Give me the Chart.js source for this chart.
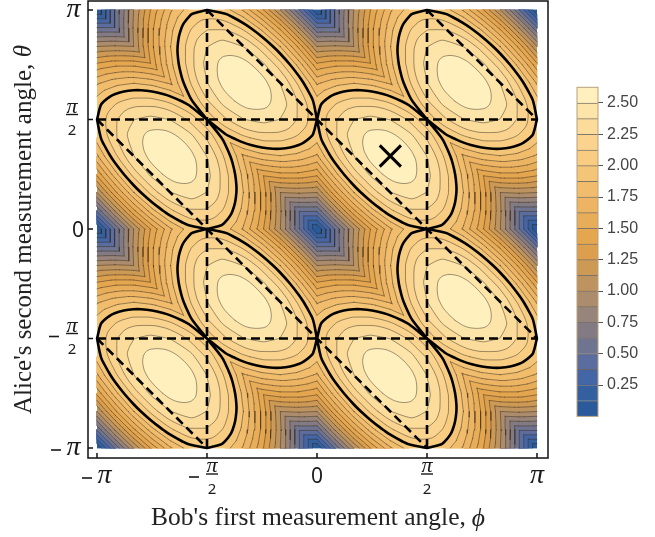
<!DOCTYPE html>
<html>
<head>
<meta charset="utf-8">
<script src="https://cdn.jsdelivr.net/npm/chart.js@4"></script>
<style>
html, body { margin: 0; padding: 0; background: #fff; }
#wrap { position: relative; width: 655px; height: 537px; overflow: hidden; }
#plot { position: absolute; left: 0; top: 0; }
#bar { position: absolute; left: 540px; top: 70px; }
</style>
</head>
<body>
<div id="wrap">
<canvas id="plot" width="655" height="537"></canvas>
<canvas id="bar" width="115" height="360"></canvas>
</div>
<script>
// grid angles, 15 degree steps, same for both axes
var gridAngles = [-3.1416,-2.8798,-2.618,-2.3562,-2.0944,-1.8326,-1.5708,-1.309,-1.0472,-0.7854,-0.5236,-0.2618,0,0.2618,0.5236,0.7854,1.0472,1.309,1.5708,1.8326,2.0944,2.3562,2.618,2.8798,3.1416];

// surface heights, bottom row is theta = -pi
var zValues = [
[0,0.52,1,1.41,1.73,1.93,2,1.93,1.73,1.41,1,0.52,0,0.52,1,1.41,1.73,1.93,2,1.93,1.73,1.41,1,0.52,0],
[0.52,1.02,1.47,1.83,2.09,2.23,2.23,2.09,1.83,1.47,1.02,0.52,0.52,1.02,1.47,1.83,2.09,2.23,2.23,2.09,1.83,1.47,1.02,0.52,0.52],
[1,1.47,1.87,2.17,2.37,2.43,2.37,2.17,1.87,1.47,1,1.02,1,1.47,1.87,2.17,2.37,2.43,2.37,2.17,1.87,1.47,1,1.02,1],
[1.41,1.83,2.17,2.41,2.54,2.54,2.41,2.17,1.83,1.41,1.47,1.47,1.41,1.83,2.17,2.41,2.54,2.54,2.41,2.17,1.83,1.41,1.47,1.47,1.41],
[1.73,2.09,2.37,2.54,2.6,2.54,2.37,2.09,1.73,1.83,1.87,1.83,1.73,2.09,2.37,2.54,2.6,2.54,2.37,2.09,1.73,1.83,1.87,1.83,1.73],
[1.93,2.23,2.43,2.54,2.54,2.43,2.23,1.93,2.09,2.17,2.17,2.09,1.93,2.23,2.43,2.54,2.54,2.43,2.23,1.93,2.09,2.17,2.17,2.09,1.93],
[2,2.23,2.37,2.41,2.37,2.23,2,2.23,2.37,2.41,2.37,2.23,2,2.23,2.37,2.41,2.37,2.23,2,2.23,2.37,2.41,2.37,2.23,2],
[1.93,2.09,2.17,2.17,2.09,1.93,2.23,2.43,2.54,2.54,2.43,2.23,1.93,2.09,2.17,2.17,2.09,1.93,2.23,2.43,2.54,2.54,2.43,2.23,1.93],
[1.73,1.83,1.87,1.83,1.73,2.09,2.37,2.54,2.6,2.54,2.37,2.09,1.73,1.83,1.87,1.83,1.73,2.09,2.37,2.54,2.6,2.54,2.37,2.09,1.73],
[1.41,1.47,1.47,1.41,1.83,2.17,2.41,2.54,2.54,2.41,2.17,1.83,1.41,1.47,1.47,1.41,1.83,2.17,2.41,2.54,2.54,2.41,2.17,1.83,1.41],
[1,1.02,1,1.47,1.87,2.17,2.37,2.43,2.37,2.17,1.87,1.47,1,1.02,1,1.47,1.87,2.17,2.37,2.43,2.37,2.17,1.87,1.47,1],
[0.52,0.52,1.02,1.47,1.83,2.09,2.23,2.23,2.09,1.83,1.47,1.02,0.52,0.52,1.02,1.47,1.83,2.09,2.23,2.23,2.09,1.83,1.47,1.02,0.52],
[0,0.52,1,1.41,1.73,1.93,2,1.93,1.73,1.41,1,0.52,0,0.52,1,1.41,1.73,1.93,2,1.93,1.73,1.41,1,0.52,0],
[0.52,1.02,1.47,1.83,2.09,2.23,2.23,2.09,1.83,1.47,1.02,0.52,0.52,1.02,1.47,1.83,2.09,2.23,2.23,2.09,1.83,1.47,1.02,0.52,0.52],
[1,1.47,1.87,2.17,2.37,2.43,2.37,2.17,1.87,1.47,1,1.02,1,1.47,1.87,2.17,2.37,2.43,2.37,2.17,1.87,1.47,1,1.02,1],
[1.41,1.83,2.17,2.41,2.54,2.54,2.41,2.17,1.83,1.41,1.47,1.47,1.41,1.83,2.17,2.41,2.54,2.54,2.41,2.17,1.83,1.41,1.47,1.47,1.41],
[1.73,2.09,2.37,2.54,2.6,2.54,2.37,2.09,1.73,1.83,1.87,1.83,1.73,2.09,2.37,2.54,2.6,2.54,2.37,2.09,1.73,1.83,1.87,1.83,1.73],
[1.93,2.23,2.43,2.54,2.54,2.43,2.23,1.93,2.09,2.17,2.17,2.09,1.93,2.23,2.43,2.54,2.54,2.43,2.23,1.93,2.09,2.17,2.17,2.09,1.93],
[2,2.23,2.37,2.41,2.37,2.23,2,2.23,2.37,2.41,2.37,2.23,2,2.23,2.37,2.41,2.37,2.23,2,2.23,2.37,2.41,2.37,2.23,2],
[1.93,2.09,2.17,2.17,2.09,1.93,2.23,2.43,2.54,2.54,2.43,2.23,1.93,2.09,2.17,2.17,2.09,1.93,2.23,2.43,2.54,2.54,2.43,2.23,1.93],
[1.73,1.83,1.87,1.83,1.73,2.09,2.37,2.54,2.6,2.54,2.37,2.09,1.73,1.83,1.87,1.83,1.73,2.09,2.37,2.54,2.6,2.54,2.37,2.09,1.73],
[1.41,1.47,1.47,1.41,1.83,2.17,2.41,2.54,2.54,2.41,2.17,1.83,1.41,1.47,1.47,1.41,1.83,2.17,2.41,2.54,2.54,2.41,2.17,1.83,1.41],
[1,1.02,1,1.47,1.87,2.17,2.37,2.43,2.37,2.17,1.87,1.47,1,1.02,1,1.47,1.87,2.17,2.37,2.43,2.37,2.17,1.87,1.47,1],
[0.52,0.52,1.02,1.47,1.83,2.09,2.23,2.23,2.09,1.83,1.47,1.02,0.52,0.52,1.02,1.47,1.83,2.09,2.23,2.23,2.09,1.83,1.47,1.02,0.52],
[0,0.52,1,1.41,1.73,1.93,2,1.93,1.73,1.41,1,0.52,0,0.52,1,1.41,1.73,1.93,2,1.93,1.73,1.41,1,0.52,0]
];

var levels = [0,0.125,0.25,0.375,0.5,0.625,0.75,0.875,1,1.125,1.25,1.375,1.5,1.625,1.75,1.875,2,2.125,2.25,2.375,2.5,2.625];
var bandColors = ['#2a5a9b','#35609f','#4466a6','#5b6d9f','#6f7590','#837b84','#97847a','#ab8c6d','#bd9460','#cd9a56','#dc9f4e','#e4a64f','#e8ad58','#edb563','#f1bd6c','#f5c577','#f8cd82','#fad48e','#fcdc9a','#fde4a8','#fff0bd'];
var colorbarTicks = [0.25,0.5,0.75,1,1.25,1.5,1.75,2,2.25,2.5];

var tickValues = [-3.1416,-1.5708,0,1.5708,3.1416];
var tickLabels = ['−π','−π/2','0','π/2','π'];

var xTitle = "Bob's first measurement angle,   ";
var yTitle = "Alice's second measurement angle,   ";
var xSymbol = 'ϕ';
var ySymbol = 'θ';

var markerPhi = [1.0472];
var markerTheta = [1.0472];

// dashed guide lines, start and end of each
var dashPhi = [[-1.5708,-1.5708],[1.5708,1.5708],[-3.1416,3.1416],[-3.1416,3.1416],[-1.5708,3.1416],[1.5708,3.1416],[-3.1416,1.5708],[-3.1416,-1.5708]];
var dashTheta = [[-3.1416,3.1416],[-3.1416,3.1416],[-1.5708,-1.5708],[1.5708,1.5708],[3.1416,-1.5708],[3.1416,1.5708],[1.5708,-3.1416],[-1.5708,-3.1416]];

var gap = { x: NaN, y: NaN };

// the two triangles of every grid cell, split along the anti-diagonal
function eachTriangle(cb) {
    for (var j = 0; j < zValues.length - 1; j++) {
        for (var i = 0; i < gridAngles.length - 1; i++) {
            var a = [gridAngles[i], gridAngles[j], zValues[j][i], i, j];
            var b = [gridAngles[i + 1], gridAngles[j], zValues[j][i + 1], i + 1, j];
            var c = [gridAngles[i], gridAngles[j + 1], zValues[j + 1][i], i, j + 1];
            var d = [gridAngles[i + 1], gridAngles[j + 1], zValues[j + 1][i + 1], i + 1, j + 1];
            cb([a, b, c]);
            cb([d, c, b]);
        }
    }
}

function cross(p, q, lev) {
    var t = (lev - p[2]) / (q[2] - p[2]);
    return { x: p[0] + t * (q[0] - p[0]), y: p[1] + t * (q[1] - p[1]) };
}

// same crossing, but placed with the next grid node along the edge so the
// ellipses do not pick up the corners of the grid
function crossCurved(p, q, lev) {
    var lo = p[2] < q[2] ? p : q, hi = p[2] < q[2] ? q : p;
    var n = gridAngles.length - 1;
    var ri = ((2 * hi[3] - lo[3]) % n + n) % n;
    var rj = ((2 * hi[4] - lo[4]) % n + n) % n;
    var a = (zValues[rj][ri] - 2 * hi[2] + lo[2]) / 2;
    var b = hi[2] - lo[2] - a;
    var c = lo[2] - lev;
    var disc = b * b - 4 * a * c;
    if (Math.abs(a) < 1e-6 || disc < 0) return cross(p, q, lev);
    var s1 = (-b + Math.sqrt(disc)) / (2 * a), s2 = (-b - Math.sqrt(disc)) / (2 * a);
    var s = (s1 >= 0 && s1 <= 1) ? s1 : s2;
    if (s < 0 || s > 1) return cross(p, q, lev);
    return { x: lo[0] + s * (hi[0] - lo[0]), y: lo[1] + s * (hi[1] - lo[1]) };
}

// region of the surface at or above lev, as polygons split by gaps
function bandPoints(lev, nextLev) {
    var pts = [];
    eachTriangle(function(tri) {
        var zs = tri.map(function(p) { return p[2]; });
        if (Math.max.apply(null, zs) < lev || Math.min.apply(null, zs) >= nextLev + 0.05) return;
        for (var k = 0; k < 3; k++) {
            var p = tri[k], q = tri[(k + 1) % 3];
            if (p[2] >= lev) pts.push({ x: p[0], y: p[1] });
            if ((p[2] >= lev) !== (q[2] >= lev)) pts.push(cross(p, q, lev));
        }
        pts.push(gap);
    });
    return pts;
}

function contourSegments(lev, crossFn) {
    var segs = [];
    eachTriangle(function(tri) {
        var hits = [];
        for (var k = 0; k < 3; k++) {
            var p = tri[k], q = tri[(k + 1) % 3];
            if ((p[2] >= lev) !== (q[2] >= lev)) hits.push(crossFn(p, q, lev));
        }
        if (hits.length === 2) segs.push(hits);
    });
    return segs;
}

function contourPoints(lev) {
    var pts = [];
    contourSegments(lev, cross).forEach(function(s) { pts.push(s[0], s[1], gap); });
    return pts;
}

function ptKey(p) { return p.x.toFixed(4) + ',' + p.y.toFixed(4); }

// join segments into closed loops, used for the ellipses at 2 and above
function contourLoops(lev) {
    var segs = contourSegments(lev + 0.001, crossCurved);
    var byKey = {};
    segs.forEach(function(s, n) {
        s.forEach(function(p) {
            var k = ptKey(p);
            (byKey[k] = byKey[k] || []).push(n);
        });
    });
    var used = segs.map(function() { return false; });
    var pts = [];
    segs.forEach(function(s, n) {
        if (used[n]) return;
        used[n] = true;
        var loop = [s[0], s[1]];
        var cur = s[1];
        while (true) {
            var next = byKey[ptKey(cur)].filter(function(m) { return !used[m]; })[0];
            if (next === undefined) break;
            used[next] = true;
            var t = segs[next];
            cur = ptKey(t[0]) === ptKey(cur) ? t[1] : t[0];
            loop.push(cur);
        }
        pts = pts.concat(loop);
        pts.push(gap);
    });
    return pts;
}

var datasets = [];
bandColors.forEach(function(col, n) {
    var high = levels[n] >= 2;
    datasets.push({
        label: 'band ' + levels[n],
        data: high ? contourLoops(levels[n]) : bandPoints(levels[n], levels[n + 1]),
        showLine: true, spanGaps: false, fill: 'shape',
        tension: high ? 0.4 : 0,
        backgroundColor: col, borderColor: col, borderWidth: 0.8,
        pointRadius: 0, order: 1000 - n
    });
});
levels.slice(1, 21).forEach(function(lev) {
    var high = lev >= 2;
    var thick = lev === 2;
    datasets.push({
        label: 'contour ' + lev,
        data: high ? contourLoops(lev) : contourPoints(lev),
        showLine: true, spanGaps: false, fill: false,
        tension: high ? 0.4 : 0,
        borderColor: thick ? '#000' : 'rgba(50,40,30,0.48)',
        borderWidth: thick ? 2.6 : 1,
        borderCapStyle: 'round',
        pointRadius: 0, order: thick ? 50 : 100
    });
});
dashPhi.forEach(function(xs, n) {
    datasets.push({
        label: 'dashed ' + n,
        data: [{ x: xs[0], y: dashTheta[n][0] }, { x: xs[1], y: dashTheta[n][1] }],
        showLine: true, fill: false,
        borderColor: '#000', borderWidth: 2.6, borderDash: [9, 5],
        pointRadius: 0, order: 10
    });
});
datasets.push({
    label: 'optimum',
    data: [{ x: markerPhi[0], y: markerTheta[0] }],
    pointStyle: 'crossRot', pointRadius: 15, pointBorderColor: '#000', pointBorderWidth: 3,
    order: 1
});

function drawTick(ctx, label, x, y, isX) {
    var neg = label[0] === '−';
    var body = neg ? label.slice(1) : label;
    var frac = body.indexOf('/') >= 0;
    var w = frac ? 12 : (body === '0' ? 12 : 15);
    var lead = neg ? (frac ? 17 : 15) : 0;
    var left;
    if (isX) left = x - (w + lead) / 2 - (frac && neg ? 3.5 : 0);
    else left = (frac ? 78 : (body === '0' ? 84 : 81)) - w - lead;
    var cx = left + lead + w / 2;
    var base = y + (isX ? 4 : 7);
    ctx.fillStyle = '#1a1a1a';
    ctx.textBaseline = 'alphabetic';
    ctx.textAlign = 'center';
    if (neg) ctx.fillRect(left, (frac ? y - 2 : base - 5) - 0.8, 10, 1.6);
    if (frac) {
        ctx.font = 'italic 22px "Liberation Serif"';
        ctx.fillText('π', cx, y - 7);
        ctx.fillRect(cx - 6, y - 5.7, 12, 1.4);
        ctx.font = '15px "Noto Sans"';
        ctx.fillText('2', cx, y + 15);
    } else if (body === '0') {
        ctx.font = '21px "Noto Sans"';
        ctx.fillText('0', cx, base + (isX ? 0 : 1));
    } else {
        ctx.font = 'italic 28px "Liberation Serif"';
        ctx.fillText('π', cx, base);
    }
}

// italic axis symbols sit in the space left at the end of each title
function drawSymbol(ctx, title, symbol, size, cx, cy, turn) {
    ctx.save();
    ctx.translate(cx, cy);
    ctx.rotate(turn);
    ctx.font = size + 'px "Liberation Serif"';
    var w = ctx.measureText(title).width;
    ctx.font = 'italic ' + size + 'px "Liberation Serif"';
    ctx.fillStyle = '#222';
    ctx.textAlign = 'right';
    ctx.textBaseline = 'middle';
    ctx.fillText(symbol, w / 2, 0);
    ctx.restore();
}

var framePlugin = {
    id: 'framePlugin',
    afterDraw: function(chart) {
        var ctx = chart.ctx, a = chart.chartArea, sx = chart.scales.x, sy = chart.scales.y;
        ctx.save();
        ctx.strokeStyle = '#111';
        ctx.lineWidth = 1.5;
        ctx.strokeRect(a.left, a.top, a.right - a.left, a.bottom - a.top);
        tickValues.forEach(function(v, n) {
            var px = sx.getPixelForValue(v), py = sy.getPixelForValue(v);
            ctx.beginPath();
            ctx.moveTo(px, a.bottom); ctx.lineTo(px, a.bottom - 5);
            ctx.moveTo(a.left, py); ctx.lineTo(a.left + 5, py);
            ctx.stroke();
            drawTick(ctx, tickLabels[n], px, 479, true);
            drawTick(ctx, tickLabels[n], 0, py, false);
        });
        ctx.restore();
        drawSymbol(ctx, xTitle, xSymbol, 25.5, (a.left + a.right) / 2, 519, 0);
        drawSymbol(ctx, yTitle, ySymbol, 25, 24, (a.top + a.bottom) / 2, -Math.PI / 2);
    }
};

new Chart(document.getElementById('plot'), {
    type: 'scatter',
    data: { datasets: datasets },
    plugins: [framePlugin],
    options: {
        responsive: false,
        animation: false,
        events: [],
        layout: { autoPadding: false, padding: { top: 1, right: 107, left: 0, bottom: 0 } },
        plugins: { legend: { display: false }, tooltip: { enabled: false } },
        scales: {
            x: {
                min: -3.27, max: 3.2987,
                ticks: { display: false },
                grid: { display: false },
                border: { display: false },
                afterFit: function(s) { s.height = 79; },
                title: {
                    display: true,
                    text: xTitle,
                    color: '#222',
                    font: { family: '"Liberation Serif"', size: 25.5 },
                    padding: { top: 3, bottom: 3 }
                }
            },
            y: {
                min: -3.285, max: 3.2707,
                ticks: { display: false },
                grid: { display: false },
                border: { display: false },
                afterFit: function(s) { s.width = 88; },
                title: {
                    display: true,
                    text: yTitle,
                    color: '#222',
                    font: { family: '"Liberation Serif"', size: 25 },
                    padding: { top: 9, bottom: 9 }
                }
            }
        }
    }
});

// colour bar
var barFrame = {
    id: 'barFrame',
    afterDatasetsDraw: function(chart) {
        var ctx = chart.ctx, a = chart.chartArea;
        ctx.save();
        ctx.strokeStyle = '#b5a27c';
        ctx.lineWidth = 1;
        ctx.strokeRect(a.left, a.top, a.right - a.left, a.bottom - a.top);
        ctx.restore();
    }
};

new Chart(document.getElementById('bar'), {
    type: 'bar',
    data: {
        labels: [''],
        datasets: bandColors.map(function(col, n) {
            return {
                data: [[levels[n], levels[n + 1]]],
                backgroundColor: col,
                borderColor: 'rgba(50,40,30,0.62)',
                borderWidth: { top: n < 20 ? 1 : 0, bottom: 0, left: 0, right: 0 },
                borderSkipped: false,
                grouped: false,
                barPercentage: 1, categoryPercentage: 1
            };
        })
    },
    plugins: [barFrame],
    options: {
        responsive: false,
        animation: false,
        events: [],
        layout: { padding: { top: 17.3, right: 0, left: 37, bottom: 11 } },
        plugins: { legend: { display: false }, tooltip: { enabled: false } },
        scales: {
            x: { display: false },
            y: {
                position: 'right',
                min: 0, max: 2.625,
                afterBuildTicks: function(s) {
                    s.ticks = colorbarTicks.map(function(v) { return { value: v }; });
                },
                afterFit: function(s) { s.width = 57; },
                border: { display: false },
                grid: { drawOnChartArea: false, tickLength: 5, tickColor: '#555' },
                ticks: {
                    padding: 4,
                    color: '#444',
                    font: { family: '"Liberation Sans"', size: 16 },
                    callback: function(v) { return Number(v).toFixed(2); }
                }
            }
        }
    }
});
</script>
</body>
</html>
